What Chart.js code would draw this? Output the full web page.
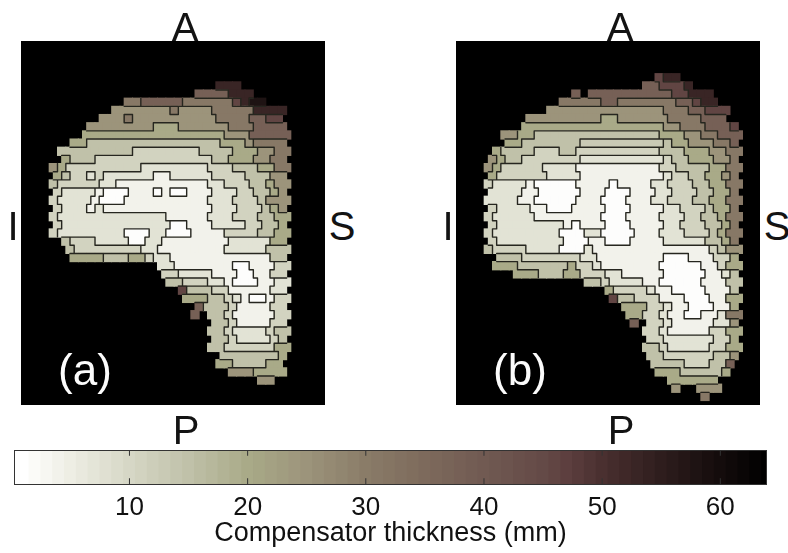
<!DOCTYPE html>
<html><head><meta charset="utf-8">
<script src="https://cdn.jsdelivr.net/npm/chart.js@4/dist/chart.umd.min.js"></script>
<style>
html,body{margin:0;padding:0;background:#fff;width:788px;height:553px;overflow:hidden}
canvas{position:absolute}
#pa,#pb{filter:blur(0.45px)}
.t{position:absolute;font-family:"Liberation Sans",Arial,sans-serif;color:#111;font-size:40px;line-height:40px;transform:translateX(-50%);white-space:nowrap;opacity:.99}
.w{color:#fff;font-size:44px;line-height:44px}
</style></head><body>
<canvas id="pa" width="304" height="364" style="left:21px;top:41px"></canvas>
<canvas id="pb" width="304" height="364" style="left:456px;top:41px"></canvas>
<canvas id="cb" width="788" height="113" style="left:0;top:440px"></canvas>
<div class="t" style="left:185px;top:7px">A</div>
<div class="t" style="left:186px;top:410px">P</div>
<div class="t" style="left:13px;top:206px">I</div>
<div class="t" style="left:342px;top:206px">S</div>
<div class="t" style="left:620px;top:7px">A</div>
<div class="t" style="left:621px;top:410px">P</div>
<div class="t" style="left:448px;top:206px">I</div>
<div class="t" style="left:777px;top:206px">S</div>
<div class="t w" style="left:85px;top:348px">(a)</div>
<div class="t w" style="left:520px;top:348px">(b)</div>
<script>
// thickness (mm) of each contour band; index 12 = no data
const bandThickness = [1.5,4,7.5,11,15,20,25,31,38,46,53,58,null,13];
// each row: [startCol, band, startCol, band, ..., endCol]
const panelARows = {
5:[24,10,27],
6:[21,8,25,10,28],
7:[13,7,15,8,20,7,26,9,27,10,28,11,30],
8:[11,6,18,7,19,6,23,7,28,10,32],
9:[10,6,13,7,14,6,24,7,28,8,30,9,32],
10:[8,6,16,5,19,6,25,7,28,8,32],
11:[8,5,25,6,28,8,33],
12:[6,5,8,4,24,5,27,6,28,7,32],
13:[5,4,14,3,22,4,26,5,29,6,31,7,33],
14:[5,5,6,4,9,3,23,4,25,5,28,6,30,7,32],
15:[4,6,5,5,6,3,15,2,23,3,26,4,29,5,31,7,33],
16:[4,5,5,4,6,3,8,2,9,3,10,2,16,1,18,2,23,3,27,4,30,6,32],
17:[4,4,5,3,10,2,12,1,23,2,25,3,28,4,30,5,31,6,33],
18:[4,3,5,2,9,1,10,0,13,1,16,0,17,1,18,0,20,1,23,2,26,3,28,4,30,5,31,6,32],
19:[4,3,5,2,9,1,10,0,13,1,23,2,26,3,29,4,30,6,33],
20:[4,3,5,2,8,1,9,2,10,1,23,2,26,3,29,4,30,5,31,6,32],
21:[4,3,5,2,18,1,23,2,26,3,29,4,31,5,33],
22:[4,3,5,2,18,0,20,1,23,2,27,3,29,4,31,5,32],
23:[4,3,5,2,13,0,16,2,18,0,21,1,25,3,29,4,31,5,33],
24:[5,4,6,3,9,2,13,0,15,2,17,1,25,2,30,5,32],
25:[6,4,7,3,15,2,17,1,25,2,30,4,33],
26:[6,5,10,4,13,5,15,3,16,2,18,1,30,4,32],
27:[17,2,19,1,26,0,28,1,31,3,33],
28:[17,3,19,2,23,1,26,0,28,1,30,3,32],
29:[18,4,20,3,23,2,25,1,26,0,29,1,31,2,33],
30:[19,9,20,4,23,3,25,1,30,2,32],
31:[20,5,23,4,25,3,26,2,27,1,28,0,30,1,31,3,33],
32:[21,8,22,4,25,3,26,1,30,3,32],
33:[21,8,22,12,23,4,25,3,26,1,31,3,33],
34:[23,4,25,3,26,1,30,3,32],
35:[23,4,25,3,26,2,30,3,31,4,33],
36:[23,4,25,3,26,2,30,3,31,4,32],
37:[23,4,25,3,31,5,33],
38:[24,4,31,5,32],
39:[24,5,26,4,30,5,32],
40:[25,6,28,5,32],
41:[29,6,31]
};
const panelBRows = {
4:[24,9,25,10,27],
5:[23,8,25,9,28,10,29],
6:[14,8,15,12,16,8,26,9,28,10,31],
7:[13,7,18,8,20,7,27,8,29,9,30,10,32],
8:[11,6,25,7,28,8,30,9,33],
9:[9,6,18,5,20,6,26,7,30,8,33],
10:[8,5,25,6,27,7,30,8,33,9,34],
11:[6,6,8,5,10,4,25,5,28,6,30,7,32,8,35],
12:[6,5,8,4,15,13,25,4,26,5,28,6,31,7,33,8,34],
13:[5,5,6,4,10,3,13,4,15,3,25,4,28,5,31,6,33,7,35],
14:[4,6,5,5,6,4,8,3,15,2,25,3,26,4,28,5,31,6,33,7,34],
15:[4,6,5,5,6,3,11,2,15,1,25,3,27,4,31,5,33,7,35],
16:[4,5,5,3,11,2,15,1,25,2,26,3,28,4,30,5,32,6,33,7,34],
17:[4,3,5,2,9,1,10,0,15,1,19,0,20,1,24,2,26,3,29,4,31,5,33,7,35],
18:[4,2,8,1,10,0,15,1,18,0,21,1,24,2,26,3,29,4,31,5,33,7,34],
19:[4,2,8,1,10,0,15,1,18,0,21,1,24,2,26,3,29,4,31,5,33,7,35],
20:[4,3,5,2,9,1,11,0,14,1,18,0,21,1,25,2,27,3,30,4,31,5,33,7,34],
21:[4,3,5,2,10,1,18,0,21,1,25,2,28,3,30,4,32,5,33,7,35],
22:[4,3,5,2,13,1,14,0,15,1,18,0,21,1,25,2,27,3,30,4,32,5,33,7,34],
23:[4,3,5,2,13,0,16,2,18,0,22,1,25,2,28,3,31,4,32,5,33,7,35],
24:[4,3,5,2,13,0,16,1,18,0,21,1,25,2,30,4,32,5,33,7,34],
25:[4,4,5,3,9,2,13,0,16,2,17,1,31,3,32,4,33,6,35],
26:[5,4,8,3,15,2,17,1,25,0,28,1,31,3,33,5,34],
27:[5,5,8,4,14,5,15,3,17,2,18,1,25,0,30,1,32,3,33,5,35],
28:[7,5,10,4,13,5,15,3,18,2,20,1,25,0,30,1,32,2,33,4,34],
29:[16,4,18,3,19,2,23,1,25,0,30,1,33,4,35],
30:[18,5,19,3,23,2,24,1,26,0,30,1,33,4,34],
31:[19,9,20,4,22,3,25,1,28,0,31,1,33,5,35],
32:[20,5,23,3,25,2,26,1,28,0,31,1,33,5,34],
33:[21,5,23,3,25,2,26,1,28,0,30,1,32,2,33,7,35],
34:[21,8,22,12,23,3,25,2,26,1,31,2,33,6,34],
35:[23,3,25,2,26,1,31,3,33,5,35],
36:[23,3,25,2,31,3,33,5,34],
37:[23,4,25,3,26,2,31,3,33,5,35],
38:[23,4,25,3,31,4,33,6,34],
39:[24,4,28,3,31,4,33,8,34],
40:[24,5,27,4,32,5,33],
41:[26,5,32],
42:[26,6,27,12,29,6,32],
43:[30,7,31]
};
const colormapStops = [1,5,10,15,20,25,30,35,40,45,47,50,55,60,64];
const colormapColors = ['#ffffff','#eeeee4','#d6d7c6','#c0c1a9','#a9aa88','#9c947b','#8a7c68','#7d6a5c','#715a52','#644a47','#5d3f3f','#4a3030','#2e1d1d','#140c0c','#000000'];
const colorbarLevels = Array.from({length:64},(_, i)=>i+1);
const colorbarTicks = [10,20,30,40,50,60];

function hex(c){return [1,3,5].map(i=>parseInt(c.substr(i,2),16));}
function colormap(v){
  if(v<=colormapStops[0]) return colormapColors[0];
  for(let i=1;i<colormapStops.length;i++){
    if(v<=colormapStops[i]){
      const f=(v-colormapStops[i-1])/(colormapStops[i]-colormapStops[i-1]);
      const a=hex(colormapColors[i-1]),b=hex(colormapColors[i]);
      return 'rgb('+a.map((x,k)=>Math.round(x+(b[k]-x)*f)).join(',')+')';
    }
  }
  return '#000';
}
function expand(rows){
  const g={};
  for(const k in rows){
    const run=rows[k],m={};
    for(let i=0;i+2<run.length;i+=2){
      for(let c=run[i];c<run[i+2];c++) if(run[i+1]!==12) m[c]=run[i+1];
    }
    g[k]=m;
  }
  return g;
}
function buildPanel(rows){
  const g=expand(rows),cells=[],colors=[],lines=[];
  const seg=(x1,y1,x2,y2)=>{lines.push({x:x1,y:y1},{x:x2,y:y2},{x:x2,y:null});};
  for(const k in g){
    const r=+k,odd=r%2===1,shift=odd?-0.5:0;
    for(const ck in g[k]){
      const c=+ck,b=g[k][c],left=c+shift;
      cells.push({x:left+0.5,y:r+0.5});
      colors.push(colormap(bandThickness[b]));
      if(g[k][c+1]!==undefined&&g[k][c+1]!==b) seg(left+1,r,left+1,r+1);
      const nx=g[r+1];
      if(nx){
        const a=odd?c-1:c, d=odd?c:c+1;
        if(nx[a]!==undefined&&nx[a]!==b) seg(left,r+1,left+0.5,r+1);
        if(nx[d]!==undefined&&nx[d]!==b) seg(left+0.5,r+1,left+1,r+1);
      }
    }
  }
  return {cells,colors,lines};
}
const blackBack={id:'blackBack',beforeDraw(ch){const a=ch.chartArea,x=ch.ctx;x.save();x.fillStyle='#000';x.fillRect(a.left,a.top,a.right-a.left,a.bottom-a.top);x.restore();}};
function panel(id,rows){
  const p=buildPanel(rows);
  new Chart(document.getElementById(id),{
    type:'scatter',
    data:{datasets:[
      {data:p.lines,showLine:true,borderColor:'#26261f',borderWidth:1.4,pointRadius:0,spanGaps:false,tension:0,borderCapStyle:'round',borderJoinStyle:'round'},
      {data:p.cells,pointStyle:'rect',pointRadius:6.6,pointHoverRadius:6.6,pointBorderWidth:0,pointBackgroundColor:p.colors,showLine:false}
    ]},
    options:{responsive:false,animation:false,events:[],layout:{padding:0,autoPadding:false},
      plugins:{legend:{display:false},tooltip:{enabled:false}},
      scales:{
        x:{type:'linear',display:false,min:0.12,max:36.6},
        y:{type:'linear',display:false,reverse:true,min:0,max:44.55}
      }},
    plugins:[blackBack]
  });
}
panel('pa',panelARows);
panel('pb',panelBRows);

const frame={id:'frame',afterDraw(ch){const a=ch.chartArea,x=ch.ctx;x.save();x.strokeStyle='#333';x.lineWidth=1;x.strokeRect(a.left+.5,a.top+.5,a.right-a.left-1,a.bottom-a.top);x.restore();}};
const tickMarks=[];
colorbarTicks.forEach(v=>{tickMarks.push({x:v,y:0},{x:v,y:0.17},{x:v,y:null},{x:v,y:0.83},{x:v,y:1},{x:v,y:null});});
new Chart(document.getElementById('cb'),{
  data:{datasets:[
    {type:'line',data:tickMarks,borderColor:'#333',borderWidth:1,pointRadius:0,spanGaps:false,order:0},
    {type:'bar',data:colorbarLevels.map(v=>({x:v,y:1})),backgroundColor:colorbarLevels.map(v=>colormap(v)),barPercentage:1.08,categoryPercentage:1,order:1}
  ]},
  options:{responsive:false,animation:false,events:[],
    layout:{padding:{left:14,right:21,top:10,bottom:0},autoPadding:false},
    plugins:{legend:{display:false},tooltip:{enabled:false}},
    scales:{
      x:{type:'linear',min:0.23,max:63.95,offset:false,
        grid:{display:false},border:{display:false},
        afterBuildTicks(s){s.ticks=colorbarTicks.map(v=>({value:v}));},
        afterFit(s){s.height=69;},
        ticks:{autoSkip:false,maxRotation:0,color:'#111',padding:0,font:{family:'"Liberation Sans",Arial,sans-serif',size:26}},
        title:{display:true,text:'Compensator thickness (mm)',color:'#111',padding:{top:0,bottom:3},font:{family:'"Liberation Sans",Arial,sans-serif',size:27}}
      },
      y:{display:false,min:0,max:1}
    }},
  plugins:[frame]
});
</script>
</body></html>
